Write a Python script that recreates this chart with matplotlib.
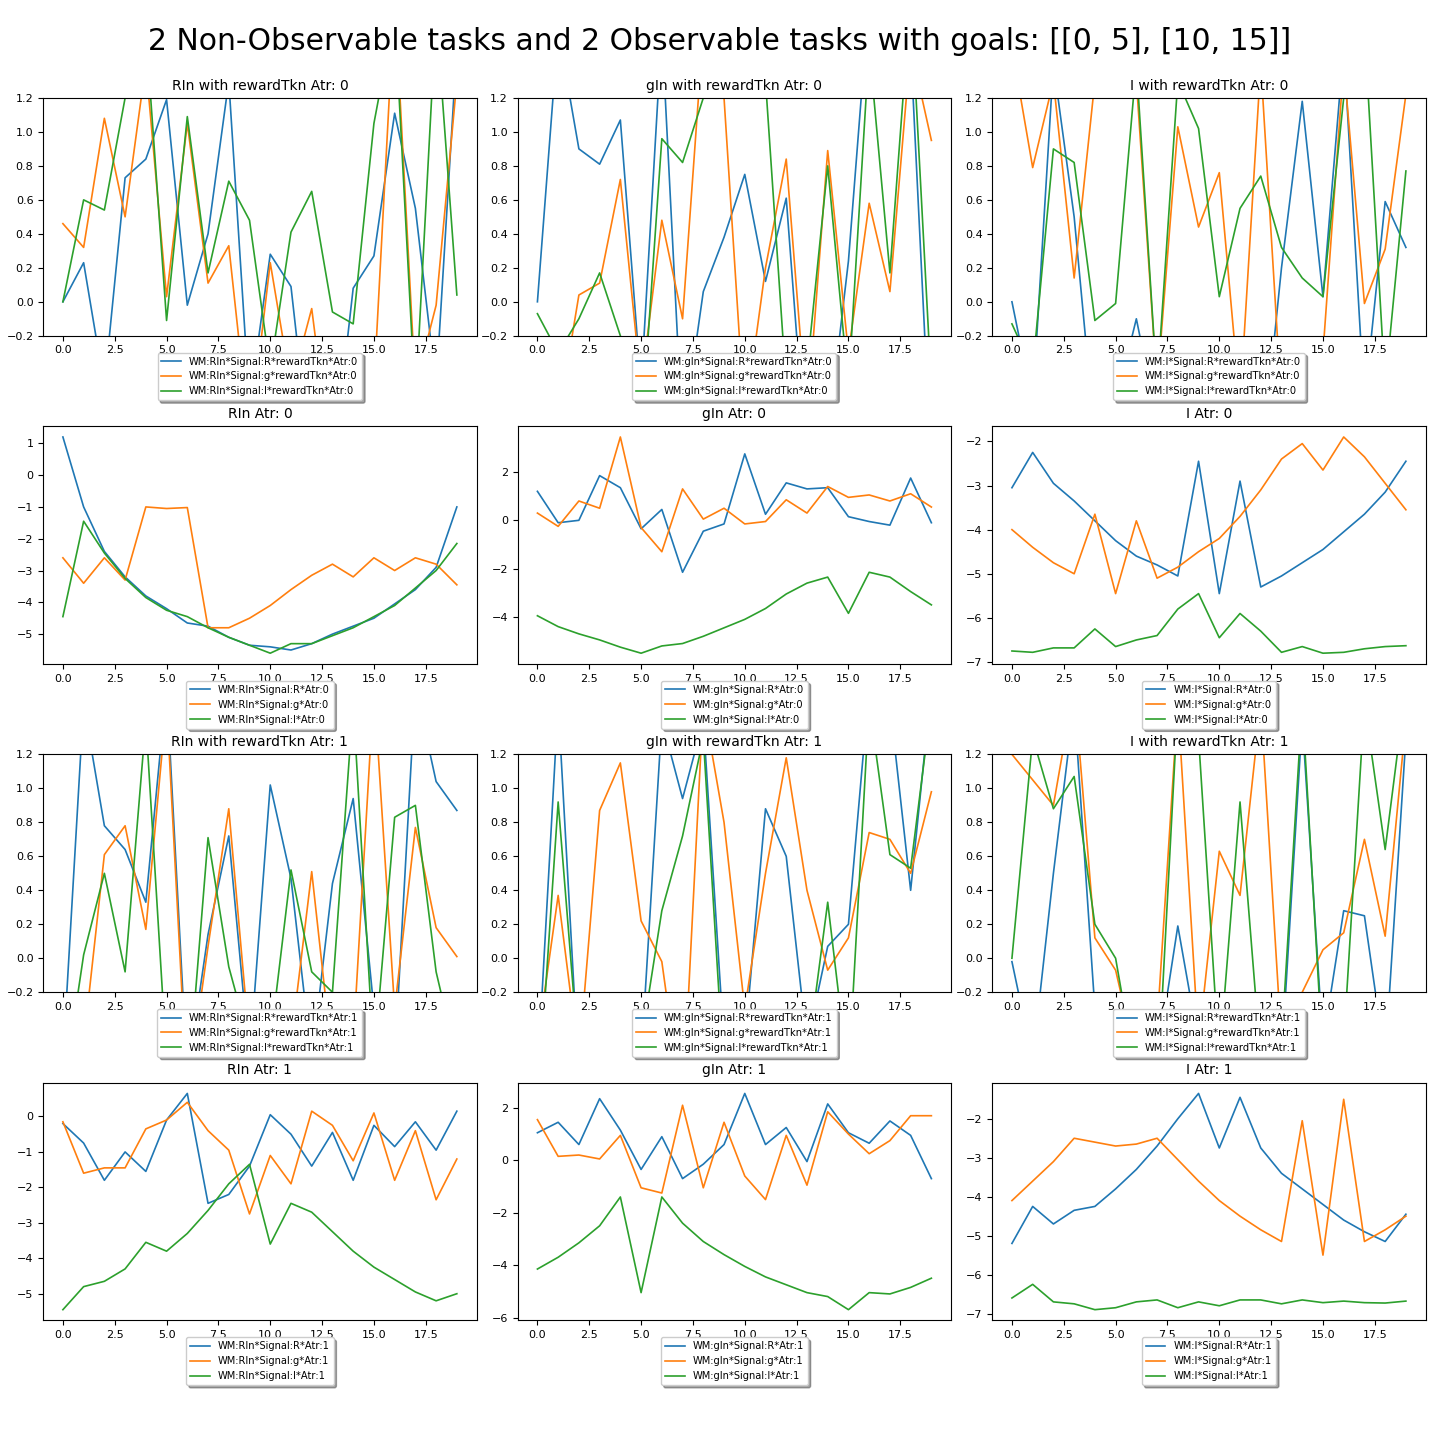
import matplotlib
matplotlib.use("Agg")
import matplotlib.pyplot as plt
import numpy as np

x = list(range(20))
signals = ["RIn", "gIn", "I"]

# data[row][col] = (blue, orange, green)
r0 = [
    ([0, 0.23, -0.5, 0.73, 0.84, 1.19, -0.02, 0.4, 1.3, -0.6, 0.28, 0.09, -1, -1, 0.08, 0.27, 1.11, 0.55, -0.5, 1.5],
     [0.46, 0.32, 1.08, 0.5, 1.4, 0.03, 1.05, 0.11, 0.33, -0.8, 0.23, -0.5, -0.04, -1, -1, -0.5, 1.8, -0.5, -0.02, 1.3],
     [0, 0.6, 0.54, 1.2, 1.6, -0.11, 1.09, 0.17, 0.71, 0.48, -0.4, 0.41, 0.65, -0.06, -0.13, 1.05, 1.7, -0.6, 1.7, 0.04]),
    ([0, 1.6, 0.9, 0.81, 1.07, -0.5, 1.6, -0.8, 0.06, 0.38, 0.75, 0.12, 0.61, -1, -0.8, 0.24, 1.8, 1.8, 1.5, -1],
     [-0.5, -0.7, 0.04, 0.11, 0.72, -0.5, 0.48, -0.1, 1.6, 1.2, -0.7, 0.2, 0.84, -0.7, 0.89, -0.3, 0.58, 0.06, 1.5, 0.95],
     [-0.07, -0.3, -0.1, 0.17, -0.2, -0.8, 0.96, 0.82, 1.2, 1.2, 1.3, 1.3, -0.5, -0.4, 0.8, -0.5, 1.5, 0.17, 1.8, -0.5]),
    ([0, -0.6, 1.4, 0.5, -0.8, -0.6, -0.1, -0.7, -0.7, -0.6, -0.3, -1, -1, 0.2, 1.18, 0.03, 1.5, -0.6, 0.59, 0.32],
     [1.5, 0.79, 1.3, 0.14, 1.3, 1.4, 1.3, -0.5, 1.03, 0.44, 0.76, -0.6, 1.4, -0.6, -0.5, -0.3, 1.4, -0.01, 0.31, 1.22],
     [-0.13, -0.4, 0.9, 0.82, -0.11, -0.01, 1.4, -0.5, 1.3, 1.02, 0.03, 0.55, 0.74, 0.32, 0.14, 0.03, 1.2, 1.6, -0.5, 0.77]),
]
r1 = [
    ([1.2, -1.0, -2.4, -3.2, -3.8, -4.2, -4.65, -4.75, -5.1, -5.35, -5.4, -5.5, -5.3, -5.0, -4.75, -4.5, -4.05, -3.6, -2.9, -1.0],
     [-2.6, -3.4, -2.6, -3.3, -1.0, -1.05, -1.02, -4.8, -4.8, -4.5, -4.1, -3.6, -3.15, -2.8, -3.2, -2.6, -3.0, -2.6, -2.8, -3.45],
     [-4.45, -1.45, -2.45, -3.25, -3.85, -4.25, -4.45, -4.8, -5.1, -5.35, -5.6, -5.3, -5.3, -5.05, -4.8, -4.45, -4.1, -3.55, -3.0, -2.15]),
    ([1.2, -0.1, 0.0, 1.85, 1.35, -0.35, 0.45, -2.15, -0.45, -0.15, 2.75, 0.25, 1.55, 1.3, 1.35, 0.15, -0.05, -0.2, 1.75, -0.1],
     [0.3, -0.25, 0.8, 0.5, 3.45, -0.3, -1.3, 1.3, 0.05, 0.5, -0.15, -0.05, 0.85, 0.3, 1.4, 0.95, 1.05, 0.8, 1.1, 0.55],
     [-3.95, -4.4, -4.7, -4.95, -5.25, -5.5, -5.2, -5.1, -4.8, -4.45, -4.1, -3.65, -3.05, -2.6, -2.35, -3.85, -2.15, -2.35, -2.95, -3.5]),
    ([-3.05, -2.25, -2.95, -3.35, -3.8, -4.25, -4.6, -4.8, -5.05, -2.45, -5.45, -2.9, -5.3, -5.05, -4.75, -4.45, -4.05, -3.65, -3.15, -2.45],
     [-4.0, -4.4, -4.75, -5.0, -3.65, -5.45, -3.8, -5.1, -4.85, -4.5, -4.2, -3.7, -3.1, -2.4, -2.05, -2.65, -1.9, -2.35, -2.95, -3.55],
     [-6.75, -6.78, -6.68, -6.68, -6.25, -6.65, -6.5, -6.4, -5.8, -5.45, -6.45, -5.9, -6.3, -6.78, -6.65, -6.8, -6.78, -6.7, -6.65, -6.63]),
]
r2 = [
    ([-0.6, 1.5, 0.78, 0.64, 0.33, 1.6, -0.7, 0.14, 0.72, -0.6, 1.02, 0.47, -0.6, 0.44, 0.94, -0.3, -0.6, 1.6, 1.04, 0.87],
     [-1.0, -0.5, 0.61, 0.78, 0.17, 1.5, -0.8, 0.07, 0.88, -0.5, -0.5, -0.5, 0.51, -0.6, -0.5, 1.6, -0.3, 0.77, 0.18, 0.01],
     [-0.8, 0.02, 0.5, -0.08, 1.4, -0.6, -0.8, 0.71, -0.05, -0.5, -0.5, 0.52, -0.08, -0.2, 1.5, -0.6, 0.83, 0.9, -0.08, -0.6]),
    ([-0.7, 1.5, -0.7, -0.5, -0.5, -0.6, 1.4, 0.94, 1.4, -0.5, -0.5, 0.88, 0.6, -0.5, 0.07, 0.2, 1.6, 1.5, 0.4, 1.6],
     [-0.5, 0.37, -0.6, 0.87, 1.15, 0.22, -0.02, -0.9, 1.5, 0.8, -0.3, 0.5, 1.18, 0.4, -0.07, 0.12, 0.74, 0.7, 0.5, 0.98],
     [-0.9, 0.92, -0.6, -0.9, -0.6, -0.5, 0.28, 0.72, 1.3, -0.7, -0.8, -0.6, -0.7, -0.6, 0.33, -0.7, 1.5, 0.61, 0.53, 1.5]),
    ([-0.02, -0.6, 0.5, 1.5, -0.3, -0.6, -0.7, -0.6, 0.19, -0.5, -0.6, -0.6, -0.7, -0.6, 1.4, -0.5, 0.28, 0.25, -0.6, 1.3],
     [1.2, 1.05, 0.9, 1.6, 0.12, -0.07, -0.6, -0.4, 1.5, -0.5, 0.63, 0.37, 1.5, -0.5, -0.2, 0.05, 0.15, 0.7, 0.13, 1.4],
     [0.0, 1.3, 0.88, 1.07, 0.2, 0.0, -0.7, -0.8, 1.5, 1.3, -0.6, 0.92, -0.6, -0.5, 1.5, -0.6, -0.5, 1.5, 0.64, 1.6]),
]
r3 = [
    ([-0.2, -0.75, -1.8, -1.0, -1.55, -0.1, 0.65, -2.45, -2.2, -1.4, 0.05, -0.5, -1.4, -0.45, -1.8, -0.25, -0.85, -0.15, -0.95, 0.15],
     [-0.15, -1.6, -1.45, -1.45, -0.35, -0.1, 0.4, -0.4, -0.95, -2.75, -1.1, -1.9, 0.15, -0.25, -1.25, 0.1, -1.8, -0.4, -2.35, -1.2],
     [-5.45, -4.8, -4.65, -4.3, -3.55, -3.8, -3.3, -2.65, -1.9, -1.35, -3.6, -2.45, -2.7, -3.25, -3.8, -4.25, -4.6, -4.95, -5.2, -5.0]),
    ([1.05, 1.45, 0.6, 2.35, 1.15, -0.35, 0.9, -0.7, -0.15, 0.6, 2.55, 0.6, 1.25, -0.05, 2.15, 1.05, 0.65, 1.5, 0.95, -0.7],
     [1.55, 0.15, 0.2, 0.05, 0.95, -1.05, -1.25, 2.1, -1.05, 1.45, -0.6, -1.5, 0.95, -0.95, 1.85, 1.0, 0.25, 0.75, 1.7, 1.7],
     [-4.15, -3.7, -3.15, -2.5, -1.4, -5.05, -1.4, -2.4, -3.1, -3.6, -4.05, -4.45, -4.75, -5.05, -5.2, -5.7, -5.05, -5.1, -4.85, -4.5]),
    ([-5.2, -4.25, -4.7, -4.35, -4.25, -3.8, -3.3, -2.7, -2.0, -1.35, -2.75, -1.45, -2.75, -3.4, -3.8, -4.2, -4.6, -4.9, -5.15, -4.45],
     [-4.1, -3.6, -3.1, -2.5, -2.6, -2.7, -2.65, -2.5, -3.05, -3.6, -4.1, -4.5, -4.85, -5.15, -2.05, -5.5, -1.5, -5.15, -4.85, -4.5],
     [-6.6, -6.25, -6.7, -6.75, -6.9, -6.85, -6.7, -6.65, -6.85, -6.7, -6.8, -6.65, -6.65, -6.75, -6.65, -6.72, -6.68, -6.72, -6.73, -6.68]),
]
rows = [r0, r1, r2, r3]
row_atr = [0, 0, 1, 1]
row_reward = [True, False, True, False]
targets = ["R", "g", "I"]

fig, axes = plt.subplots(4, 3, figsize=(14.4, 14.4), dpi=100)
fig.suptitle("2 Non-Observable tasks and 2 Observable tasks with goals: [[0, 5], [10, 15]]", fontsize=21.5, y=0.981)

for r in range(4):
    for c in range(3):
        ax = axes[r, c]
        sig = signals[c]
        atr = row_atr[r]
        for k, t in enumerate(targets):
            if row_reward[r]:
                lab = f"WM:{sig}*Signal:{t}*rewardTkn*Atr:{atr}"
            else:
                lab = f"WM:{sig}*Signal:{t}*Atr:{atr}"
            ax.plot(x, rows[r][c][k], label=lab, linewidth=1.2)
        if row_reward[r]:
            ax.set_title(f"{sig} with rewardTkn Atr: {atr}", fontsize=10)
            ax.set_ylim(-0.2, 1.2)
        else:
            ax.set_title(f"{sig} Atr: {atr}", fontsize=10)
        ax.tick_params(labelsize=8)
        ax.legend(loc="upper center", bbox_to_anchor=(0.5, -0.05), shadow=True, fontsize=7.1)

plt.subplots_adjust(left=0.03, right=0.99, top=0.932, bottom=0.083, hspace=0.38, wspace=0.095)
plt.savefig("out.png")
